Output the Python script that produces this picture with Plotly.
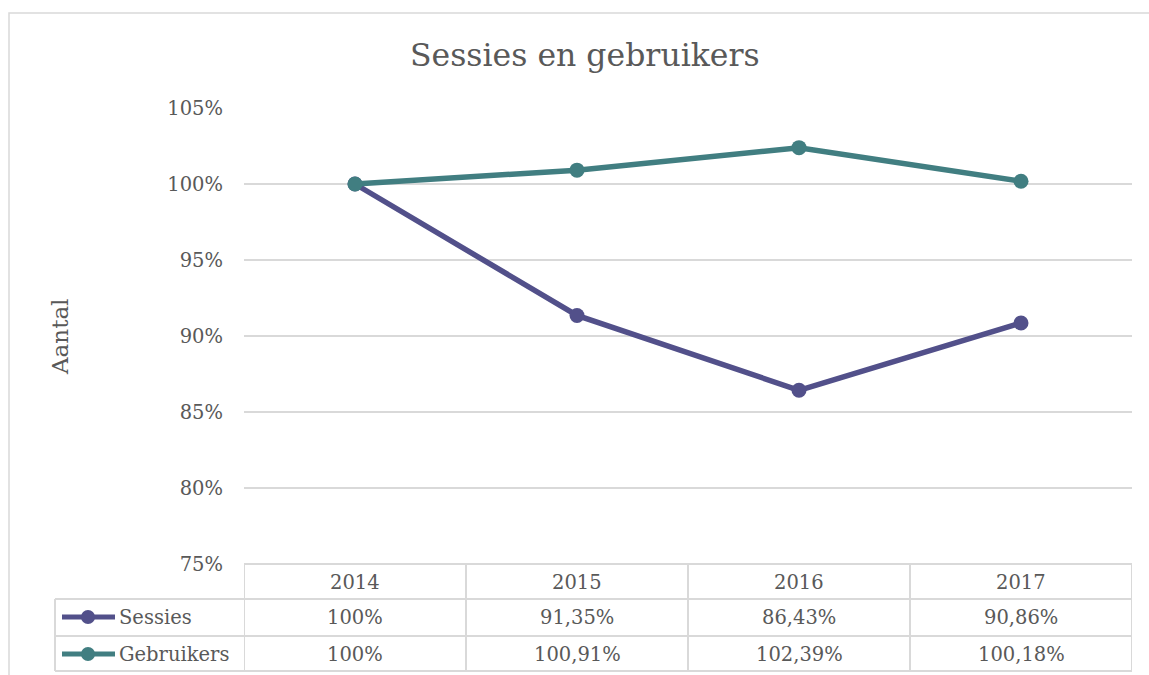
import plotly.graph_objects as go

years = ["2014", "2015", "2016", "2017"]
sessies = [100, 91.35, 86.43, 90.86]
gebruikers = [100, 100.91, 102.39, 100.18]
series_names = ["Sessies", "Gebruikers"]
series_colors = ["#52508a", "#417e81"]
y_ticks = [75, 80, 85, 90, 95, 100, 105]

W, H = 1149, 675
L, R, T, B = 244, 1132, 108, 564
FONT = "DejaVu Serif"
TXT = "#595959"
GRID = "#d9d9d9"
TBL = 19.5


def px(xp):
    return (xp - L) / (R - L)


def py(yp):
    return (B - yp) / (B - T)


def fmt(v):
    if abs(v - round(v)) < 1e-9:
        return f"{int(round(v))}%"
    return f"{v:.2f}%".replace(".", ",")


fig = go.Figure()
for name, vals, col in zip(series_names, [sessies, gebruikers], series_colors):
    fig.add_trace(go.Scatter(
        x=years, y=vals, name=name, mode="lines+markers",
        line=dict(color=col, width=5.5), marker=dict(color=col, size=15),
        cliponaxis=False, showlegend=False))

shapes = []
ann = []
# outer chart border
shapes.append(dict(type="rect", xref="paper", yref="paper", x0=px(9), x1=px(1165),
                   y0=py(13), y1=py(690), line=dict(color=GRID, width=1.5), layer="below"))

# table lines
row_y = [564, 599, 636, 671]
for i, yy in enumerate(row_y):
    x0 = L if i == 0 else 55
    shapes.append(dict(type="line", xref="paper", yref="paper", x0=px(x0), x1=px(R),
                       y0=py(yy), y1=py(yy), line=dict(color=GRID, width=2)))
for k in range(len(years) + 1):
    shapes.append(dict(type="line", xref="x", yref="paper", x0=k - 0.5, x1=k - 0.5,
                       y0=py(564), y1=py(671), line=dict(color=GRID, width=2)))
shapes.append(dict(type="line", xref="paper", yref="paper", x0=px(55), x1=px(55),
                   y0=py(599), y1=py(671), line=dict(color=GRID, width=2)))

# header years
for i, yr in enumerate(years):
    ann.append(dict(x=i, y=py(582), xref="x", yref="paper", text=yr, showarrow=False,
                    xanchor="center", yanchor="middle",
                    font=dict(family=FONT, size=TBL, color=TXT)))

row_centers = [617, 654]
for r, (name, vals, col) in enumerate(zip(series_names, [sessies, gebruikers], series_colors)):
    yc = row_centers[r]
    for i, v in enumerate(vals):
        ann.append(dict(x=i, y=py(yc), xref="x", yref="paper", text=fmt(v), showarrow=False,
                        xanchor="center", yanchor="middle",
                        font=dict(family=FONT, size=TBL, color=TXT)))
    # legend key
    shapes.append(dict(type="line", xref="paper", yref="paper", x0=px(62), x1=px(115),
                       y0=py(yc), y1=py(yc), line=dict(color=col, width=5)))
    shapes.append(dict(type="circle", xref="paper", yref="paper", x0=px(81), x1=px(95),
                       y0=py(yc + 7), y1=py(yc - 7), fillcolor=col, line=dict(color=col, width=0)))
    ann.append(dict(x=px(117), y=py(yc), xref="paper", yref="paper", text=name, showarrow=False,
                    xanchor="left", yanchor="middle",
                    font=dict(family=FONT, size=TBL, color=TXT)))

# y-axis title
ann.append(dict(x=px(60), y=py(337), xref="paper", yref="paper", text="Aantal", showarrow=False,
                xanchor="center", yanchor="middle", textangle=-90,
                font=dict(family=FONT, size=23, color=TXT)))

fig.update_layout(
    width=W, height=H,
    margin=dict(l=L, r=W - R, t=T, b=H - B, pad=0),
    paper_bgcolor="white", plot_bgcolor="white",
    title=dict(text="Sessies en gebruikers", x=0.509, xanchor="center", y=1 - 55 / H, yanchor="middle",
               font=dict(family=FONT, size=31.5, color=TXT)),
    xaxis=dict(type="category", range=[-0.5, 3.5], showticklabels=False, showgrid=False,
               zeroline=False, showline=False, fixedrange=True),
    yaxis=dict(range=[75, 105], tickvals=y_ticks, ticktext=[f"{t}%" for t in y_ticks],
               showgrid=True, gridcolor=GRID, gridwidth=2, zeroline=False, showline=False,
               ticks="", ticklabelstandoff=20,
               tickfont=dict(family=FONT, size=19.5, color=TXT)),
    shapes=shapes, annotations=ann,
)

fig.write_html("out.html", config={"displayModeBar": False},
               post_script="document.body.style.margin='0px';")
